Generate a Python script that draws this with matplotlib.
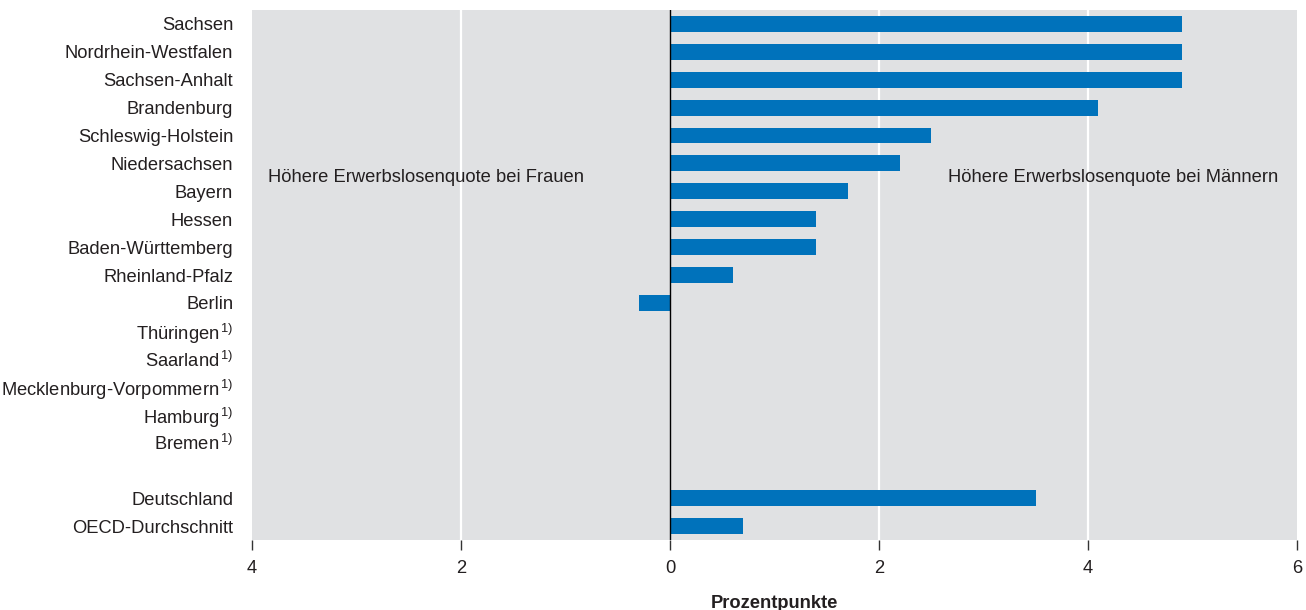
import numpy as np
import matplotlib.pyplot as plt
from matplotlib.ticker import FuncFormatter

plt.rcParams['font.family'] = ['Liberation Sans', 'DejaVu Sans']
plt.rcParams['mathtext.fontset'] = 'custom'
plt.rcParams['mathtext.rm'] = 'Liberation Sans'
plt.rcParams['mathtext.it'] = 'Liberation Sans:italic'
plt.rcParams['mathtext.bf'] = 'Liberation Sans:bold'

# Bundeslaender (Differenz Erwerbslosenquote Maenner - Frauen, Prozentpunkte)
states = ["Sachsen", "Nordrhein-Westfalen", "Sachsen-Anhalt", "Brandenburg",
          "Schleswig-Holstein", "Niedersachsen", "Bayern", "Hessen",
          "Baden-Württemberg", "Rheinland-Pfalz", "Berlin", "Thüringen",
          "Saarland", "Mecklenburg-Vorpommern", "Hamburg", "Bremen"]
state_values = [4.9, 4.9, 4.9, 4.1, 2.5, 2.2, 1.7, 1.4, 1.4, 0.6, -0.3,
                np.nan, np.nan, np.nan, np.nan, np.nan]
footnote = [False] * 11 + [True] * 5

summary = ["Deutschland", "OECD-Durchschnitt"]
summary_values = [3.5, 0.7]

bar_color = '#0072BB'
bg_color = '#E0E1E3'
text_color = '#231F20'
fs = 13.2

fig = plt.figure(figsize=(13.06, 6.10), dpi=100)
ax = fig.add_axes([252 / 1306, 70 / 610, 1045 / 1306, 530 / 610])
ax.set_facecolor(bg_color)

y_states = np.arange(len(states))
y_summary = np.arange(len(summary)) + len(states) + 1

ax.barh(y_states, state_values, height=0.57, color=bar_color, zorder=3)
ax.barh(y_summary, summary_values, height=0.57, color=bar_color, zorder=3)

labels = [s + (r"$^{\,1)}$" if f else "") for s, f in zip(states, footnote)]
ax.set_yticks(list(y_states) + list(y_summary))
ax.set_yticklabels(labels + summary)

ax.set_xlim(-4, 6)
ax.set_ylim(len(states) + len(summary) + 0.5, -0.5)
ax.set_xticks([-4, -2, 0, 2, 4, 6])
ax.xaxis.set_major_formatter(FuncFormatter(lambda v, p: f"{abs(v):.0f}"))

for g in [-2, 2, 4]:
    ax.axvline(g, color='white', lw=1.6, zorder=1)
ax.axvline(0, color='black', lw=1.0, zorder=4)

for s in ax.spines.values():
    s.set_visible(False)

ax.tick_params(axis='y', length=0, pad=13.5, labelsize=fs, labelcolor=text_color)
ax.tick_params(axis='x', length=7.5, width=1.0, color='#333333', pad=7,
               labelsize=fs, labelcolor=text_color)
ax.set_xlabel("Prozentpunkte", fontsize=fs, fontweight='bold',
              color=text_color, labelpad=13)

ax.text(-3.85, 5.5, "Höhere Erwerbslosenquote bei Frauen", ha='left', va='center',
        fontsize=fs, color=text_color, zorder=5)
ax.text(5.82, 5.5, "Höhere Erwerbslosenquote bei Männern", ha='right', va='center',
        fontsize=fs, color=text_color, zorder=5)

fig.savefig("out.png", dpi=100)
